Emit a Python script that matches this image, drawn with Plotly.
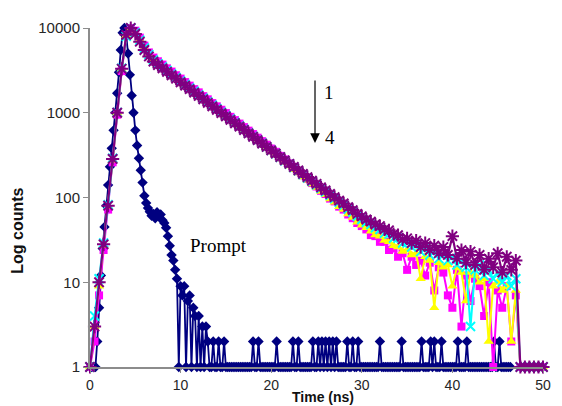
import plotly.graph_objects as go

# ---- time axes (ns) ----
t_decay = [0, 0.5, 1, 1.5, 2, 2.5, 3, 3.5, 4, 4.5,
           5, 5.5, 6, 6.5, 7, 7.5, 8, 8.5, 9, 9.5,
           10, 10.5, 11, 11.5, 12, 12.5, 13, 13.5, 14, 14.5,
           15, 15.5, 16, 16.5, 17, 17.5, 18, 18.5, 19, 19.5,
           20, 20.5, 21, 21.5, 22, 22.5, 23, 23.5, 24, 24.5,
           25, 25.5, 26, 26.5, 27, 27.5, 28, 28.5, 29, 29.5,
           30, 30.5, 31, 31.5, 32, 32.5, 33, 33.5, 34, 34.5,
           35, 35.5, 36, 36.5, 37, 37.5, 38, 38.5, 39, 39.5,
           40, 40.5, 41, 41.5, 42, 42.5, 43, 43.5, 44, 44.5,
           45, 45.5, 46, 46.5, 47, 47.5, 48, 48.5, 49, 49.5, 50]

t_prompt = [0.0, 0.2, 0.4, 0.6, 0.8, 1.0, 1.2, 1.4, 1.6, 1.8,
            2.0, 2.2, 2.4, 2.6, 2.8, 3.0, 3.2, 3.4, 3.6, 3.8,
            4.0, 4.2, 4.4, 4.6, 4.8, 5.0, 5.2, 5.4, 5.6, 5.8,
            6.0, 6.2, 6.4, 6.6, 6.8, 7.0, 7.2, 7.4, 7.6, 7.8,
            8.0, 8.2, 8.4, 8.6, 8.8, 9.0, 9.2, 9.4, 9.6, 9.8,
            10.0, 10.2, 10.4, 10.6, 10.8, 11.0, 11.2, 11.4, 11.6, 11.8,
            12.0, 12.2, 12.4, 12.6, 12.8, 13.0, 13.2, 13.4, 13.6, 13.8,
            14.0, 14.2, 14.4, 14.6, 14.8, 15.0, 15.2, 15.4, 15.6, 15.8,
            16.0, 16.2, 16.4, 16.6, 16.8, 17.0, 17.2, 17.4, 17.6, 17.8,
            18.0, 18.2, 18.4, 18.6, 18.8, 19.0, 19.2, 19.4, 19.6, 19.8,
            20.0, 20.2, 20.4, 20.6, 20.8, 21.0, 21.2, 21.4, 21.6, 21.8,
            22.0, 22.2, 22.4, 22.6, 22.8, 23.0, 23.2, 23.4, 23.6, 23.8,
            24.0, 24.2, 24.4, 24.6, 24.8, 25.0, 25.2, 25.4, 25.6, 25.8,
            26.0, 26.2, 26.4, 26.6, 26.8, 27.0, 27.2, 27.4, 27.6, 27.8,
            28.0, 28.2, 28.4, 28.6, 28.8, 29.0, 29.2, 29.4, 29.6, 29.8,
            30.0, 30.2, 30.4, 30.6, 30.8, 31.0, 31.2, 31.4, 31.6, 31.8,
            32.0, 32.2, 32.4, 32.6, 32.8, 33.0, 33.2, 33.4, 33.6, 33.8,
            34.0, 34.2, 34.4, 34.6, 34.8, 35.0, 35.2, 35.4, 35.6, 35.8,
            36.0, 36.2, 36.4, 36.6, 36.8, 37.0, 37.2, 37.4, 37.6, 37.8,
            38.0, 38.2, 38.4, 38.6, 38.8, 39.0, 39.2, 39.4, 39.6, 39.8,
            40.0, 40.2, 40.4, 40.6, 40.8, 41.0, 41.2, 41.4, 41.6, 41.8,
            42.0, 42.2, 42.4, 42.6, 42.8, 43.0, 43.2, 43.4, 43.6, 43.8,
            44.0, 44.2, 44.4, 44.6, 44.8, 45.0, 45.2, 45.4, 45.6, 45.8,
            46.0, 46.2, 46.4]

# ---- counts ----
prompt = [1, 1, 1, 1, 2, 5, 12, 25, 45, 80,
          140, 230, 380, 620, 1000, 1700, 3000, 5500, 8800, 10000,
          8200, 5000, 2800, 1600, 1000, 620, 410, 290, 210, 150,
          105, 86, 75, 68, 61, 64, 57, 67, 60, 63,
          54, 50, 44, 35, 27, 21, 18, 14, 11, 1,
          9, 7, 9, 1, 6, 7, 1, 5, 4, 1,
          4, 1, 3, 1, 3, 2, 1, 1, 2, 1,
          1, 2, 1, 1, 2, 1, 1, 1, 1, 1,
          1, 1, 1, 1, 1, 1, 1, 1, 1, 1,
          2, 1, 1, 2, 1, 1, 1, 1, 1, 1,
          1, 1, 1, 2, 1, 1, 1, 1, 1, 1,
          1, 1, 2, 1, 1, 2, 1, 1, 1, 1,
          1, 1, 1, 2, 1, 1, 2, 1, 2, 1,
          2, 1, 2, 1, 2, 1, 2, 1, 1, 1,
          1, 1, 2, 1, 1, 2, 1, 1, 2, 1,
          1, 1, 1, 1, 1, 1, 1, 1, 1, 1,
          2, 1, 1, 1, 1, 1, 1, 1, 1, 1,
          1, 1, 2, 1, 1, 1, 1, 1, 1, 1,
          1, 1, 1, 2, 1, 1, 1, 1, 2, 1,
          2, 1, 1, 1, 2, 1, 1, 1, 1, 1,
          1, 1, 1, 2, 1, 1, 1, 1, 2, 1,
          1, 1, 1, 1, 1, 1, 1, 1, 1, 1,
          1, 1, 1, 2, 1, 1, 2, 1, 1, 1,
          1, 1, 1]

sample1 = [1, 2, 7, 24, 72, 260, 950, 3100, 8200, 10000,
           9300, 7700, 6200, 5150, 4480, 4050, 3700, 3340, 3060, 2770,
           2530, 2300, 2090, 1900, 1740, 1570, 1440, 1300, 1190, 1085,
           990, 895, 818, 745, 676, 615, 560, 508, 462, 420,
           378, 346, 310, 282, 252, 230, 204, 183, 166, 148,
           135, 120, 110, 97, 90, 78, 72, 63, 57, 50,
           46, 42, 36, 35, 30, 30, 24, 25, 20, 22,
           14, 20, 16, 18, 12, 17, 8, 15, 13, 7,
           5, 14, 3, 12, 6, 11, 9, 4, 10, 1,
           8, 5, 9, 2, 7, 1, 1, 1, 1, 1, 1]

sample2 = [1, 3, 9, 27, 78, 275, 990, 3250, 8100, 9900,
           8700, 7150, 5750, 4800, 4150, 3760, 3420, 3110, 2820, 2570,
           2330, 2110, 1930, 1750, 1590, 1450, 1310, 1200, 1090, 990,
           900, 820, 745, 675, 615, 558, 505, 462, 418, 380,
           345, 312, 285, 258, 236, 212, 195, 175, 160, 144,
           131, 118, 108, 96, 88, 78, 72, 64, 58, 51,
           47, 44, 40, 36, 35, 31, 30, 27, 26, 23,
           24, 21, 22, 11, 20, 18, 5, 17, 15, 16,
           9, 15, 13, 6, 13, 12, 10, 11, 2, 9,
           10, 8, 9, 2, 8, 1, 1, 1, 1, 1, 1]

sample3 = [1, 4, 11, 29, 82, 290, 1010, 3350, 8000, 10000,
           8800, 7200, 5800, 4850, 4200, 3800, 3460, 3150, 2860, 2600,
           2370, 2150, 1960, 1790, 1625, 1480, 1345, 1225, 1115, 1015,
           925, 842, 766, 698, 635, 578, 526, 478, 436, 396,
           360, 328, 299, 272, 248, 226, 206, 187, 170, 155,
           141, 128, 117, 106, 97, 88, 81, 73, 67, 60,
           55, 51, 48, 44, 42, 38, 37, 33, 33, 29,
           29, 26, 28, 23, 25, 21, 23, 19, 21, 18,
           20, 16, 18, 15, 3, 14, 16, 12, 14, 11,
           13, 10, 12, 9, 11, 1, 1, 1, 1, 1, 1]

sample4 = [1, 3, 10, 28, 80, 285, 1000, 3300, 8300, 10000,
           8500, 6900, 5500, 4620, 4020, 3660, 3340, 3040, 2770, 2520,
           2290, 2090, 1900, 1730, 1580, 1440, 1310, 1190, 1085, 990,
           905, 825, 752, 686, 626, 570, 520, 475, 433, 395,
           360, 330, 300, 274, 250, 229, 209, 190, 174, 158,
           145, 132, 121, 110, 101, 92, 85, 77, 71, 64,
           60, 55, 52, 48, 46, 42, 41, 37, 36, 32,
           33, 29, 31, 26, 29, 24, 27, 22, 26, 21,
           35, 19, 24, 17, 23, 16, 21, 14, 19, 15,
           22, 13, 20, 14, 18, 1, 1, 1, 1, 1, 1]

y_tickvals = [1, 10, 100, 1000, 10000]
y_ticktext = ["1", "10", "100", "1000", "10000"]
x_tickvals = [0, 10, 20, 30, 40, 50]

NAVY, MAGENTA, YELLOW, CYAN, PURPLE = "#000080", "#FF00FF", "#FFFF00", "#00FFFF", "#800080"

fig = go.Figure()
fig.add_trace(go.Scatter(x=t_prompt, y=prompt, mode="lines+markers", cliponaxis=False,
                         line=dict(color=NAVY, width=1.8),
                         marker=dict(symbol="diamond", size=8, color=NAVY)))
fig.add_trace(go.Scatter(x=t_decay, y=sample1, mode="lines+markers", cliponaxis=False,
                         line=dict(color=MAGENTA, width=2),
                         marker=dict(symbol="square", size=8, color=MAGENTA)))
fig.add_trace(go.Scatter(x=t_decay, y=sample2, mode="lines+markers", cliponaxis=False,
                         line=dict(color=YELLOW, width=2),
                         marker=dict(symbol="triangle-up", size=9, color=YELLOW)))
fig.add_trace(go.Scatter(x=t_decay, y=sample3, mode="lines+markers", cliponaxis=False,
                         line=dict(color=CYAN, width=2),
                         marker=dict(symbol="x-thin-open", size=9, line=dict(color=CYAN, width=2))))
fig.add_trace(go.Scatter(x=t_decay, y=sample4, mode="lines+markers", cliponaxis=False,
                         line=dict(color=PURPLE, width=2.2),
                         marker=dict(symbol="asterisk-open", size=11, line=dict(color=PURPLE, width=2))))

AX = "#8c8c8c"
# the page body adds an 8 px offset, so the figure is sized to the visible area
fig.update_layout(
    width=554, height=398,
    margin=dict(l=82, r=13, t=11, b=39),
    plot_bgcolor="white", paper_bgcolor="white",
    showlegend=False,
    font=dict(family="Liberation Sans, Arial, sans-serif", size=14, color="#262626"),
    xaxis=dict(range=[0, 50], tickvals=x_tickvals, showline=True, linecolor=AX, linewidth=2,
               ticks="outside", ticklen=4, tickcolor=AX, tickwidth=1,
               showgrid=False, zeroline=False, tickfont=dict(size=14)),
    yaxis=dict(type="log", range=[0, 4], tickvals=y_tickvals, ticktext=y_ticktext,
               showline=True, linecolor=AX, linewidth=2,
               ticks="outside", ticklen=5, tickcolor=AX, tickwidth=1,
               showgrid=False, zeroline=False, tickfont=dict(size=15)),
)

serif = "Liberation Serif, Times New Roman, serif"
fig.add_annotation(text="<b>Time (ns)</b>", xref="paper", yref="paper", x=0.514, y=-0.089,
                   showarrow=False, xanchor="center", yanchor="middle",
                   font=dict(size=14, color="#111111"))
fig.add_annotation(text="<b>Log counts</b>", xref="paper", yref="paper", x=-0.159, y=0.402,
                   showarrow=False, xanchor="center", yanchor="middle", textangle=-90,
                   font=dict(size=16, color="#111111"))
fig.add_annotation(text="Prompt", xref="paper", yref="paper", x=0.283, y=0.359,
                   showarrow=False, xanchor="center", yanchor="middle",
                   font=dict(family=serif, size=19, color="#000000"))
fig.add_annotation(text="1", xref="paper", yref="paper", x=0.527, y=0.810,
                   showarrow=False, xanchor="center", yanchor="middle",
                   font=dict(family=serif, size=19, color="#000000"))
fig.add_annotation(text="4", xref="paper", yref="paper", x=0.529, y=0.678,
                   showarrow=False, xanchor="center", yanchor="middle",
                   font=dict(family=serif, size=19, color="#000000"))
fig.add_annotation(text="", xref="paper", yref="paper", x=0.4967, y=0.661,
                   ax=0, ay=-64, showarrow=True, arrowhead=2, arrowsize=1.6,
                   arrowwidth=1.2, arrowcolor="#000000")

fig.write_html("out.html")
